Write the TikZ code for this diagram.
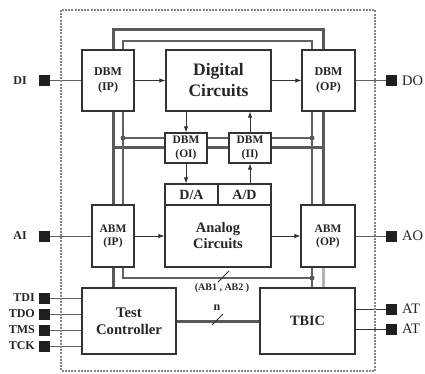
\documentclass[tikz,border=0pt]{standalone}
\usepackage{fontspec}
\setmainfont{Liberation Serif}
\usetikzlibrary{arrows.meta}
\newcommand{\boxfont}[2]{\fontsize{#1}{#2}\selectfont\bfseries}

\begin{document}
\begin{tikzpicture}[x=1pt,y=-1pt,>={Latex[length=6pt,width=4.5pt]},
  blk/.style={draw=black!80,line width=1.1pt,fill=white,inner sep=0pt,align=center,text=black!85},
  bus/.style={draw=black!65,line width=3pt},
  wire/.style={draw=black!62,line width=1.1pt},
  sig/.style={draw=black!80,line width=0.9pt},
  pin/.style={fill=black!88,inner sep=0pt,minimum size=11pt},
  plbl/.style={font=\boxfont{12}{14},text=black!85,inner sep=0pt},
  rlbl/.style={font=\fontsize{14.5}{16}\selectfont,text=black!85,inner sep=0pt},
  jdot/.style={circle,fill=black!65,inner sep=0pt,minimum size=5pt},
  border/.style={draw=black!48,line width=2pt,dash pattern=on 2pt off 1.2pt}]
  \useasboundingbox (0,0) rectangle (425,374);

  \node[blk,minimum width=52pt,minimum height=61pt,font=\boxfont{12}{15}] (dbmip) at (108,80.5) {DBM\\(IP)};
  \node[blk,minimum width=105pt,minimum height=61pt,font=\boxfont{17.5}{21}] (dig) at (218.5,80.5) {Digital\\Circuits};
  \node[blk,minimum width=53pt,minimum height=61pt,font=\boxfont{12}{15}] (dbmop) at (328.5,80.5) {DBM\\(OP)};
  \node[blk,minimum width=42pt,minimum height=30pt,font=\boxfont{11.5}{13.5}] (dbmoi) at (186,148) {DBM\\(OI)};
  \node[blk,minimum width=42pt,minimum height=30pt,font=\boxfont{11.5}{13.5}] (dbmii) at (250,148) {DBM\\(II)};
  \node[blk,minimum width=106pt,minimum height=62pt,font=\boxfont{14.5}{16}] (ana) at (218,236) {Analog\\Circuits};
  \node[blk,minimum width=53pt,minimum height=21pt,font=\boxfont{14}{16}] (da) at (191.5,194.5) {D/A};
  \node[blk,minimum width=53pt,minimum height=21pt,font=\boxfont{14}{16}] (ad) at (244.5,194.5) {A/D};
  \node[blk,minimum width=42pt,minimum height=62pt,font=\boxfont{11.5}{13}] (abmip) at (113,236) {ABM\\(IP)};
  \node[blk,minimum width=54pt,minimum height=62pt,font=\boxfont{11.5}{13}] (abmop) at (328,236) {ABM\\(OP)};
  \node[blk,minimum width=94pt,minimum height=66pt,font=\boxfont{14.7}{17}] (tc) at (129,321) {Test\\Controller};
  \node[blk,minimum width=95pt,minimum height=66pt,font=\boxfont{14.3}{17}] (tbic) at (307.5,321) {TBIC};

  \coordinate (tl) at (113,30);
  \coordinate (tr) at (323,30);
  \coordinate (itl) at (123,41);
  \coordinate (itr) at (312,41);
  \coordinate (ml) at (123,138);
  \coordinate (mr) at (312,138);
  \coordinate (br) at (312,278);

  \draw[bus] (dbmip.north -| tl) |- (tr) -- (tr |- dbmop.north);
  \draw[bus] (tl |- dbmip.south) -- (tl |- abmip.north);
  \draw[bus] (abmip.south) -- (abmip.south |- tc.north);
  \draw[bus] (tr |- dbmop.south) -- (tr |- abmop.north);
  \draw[bus,draw=black!30] (tr |- abmop.south) -- (tr |- tbic.north);
  \draw[bus] (tl |- dbmoi.west) -- (dbmoi.west);
  \draw[bus] (dbmoi.east) -- (dbmii.west);
  \draw[bus] (dbmii.east) -- (tr |- dbmii.east);
  \draw[bus] (tc.east) -- (tbic.west);

  \draw[wire] (dbmip.north -| itl) |- (itr) -- (itr |- dbmop.north);
  \draw[wire] (itl |- dbmip.south) -- (itl |- abmip.north);
  \draw[wire] (itr |- dbmop.south) -- (itr |- abmop.north);
  \draw[wire] (ml) -- (ml -| dbmoi.west);
  \draw[wire] (dbmoi.east |- ml) -- (dbmii.west |- ml);
  \draw[wire] (dbmii.east |- ml) -- (mr);
  \draw[wire] (itl |- abmip.south) |- (br);
  \draw[wire] (itr |- abmop.south) -- (itr |- tbic.north);
  \node[jdot] (j1) at (ml) {};
  \node[jdot] (j2) at (mr) {};
  \node[jdot] (j3) at (br) {};

  \draw[sig] (218,282) -- (229,271);
  \node[font=\boxfont{10}{12},text=black!85] (abl) at (222,288) {(AB1 , AB2 )};
  \draw[sig] (212,325) -- (223,314);
  \node[font=\boxfont{12}{14},text=black!85] (nl) at (217,308) {n};

  \draw[sig,->] (dbmip.east) -- (dig.west);
  \draw[sig,->] (dig.east) -- (dbmop.west);
  \draw[sig,->] (dbmoi.north |- dig.south) -- (dbmoi.north);
  \draw[sig,->] (dbmoi.south) -- (dbmoi.south |- da.north);
  \draw[sig,->] (dbmii.south |- ad.north) -- (dbmii.south);
  \draw[sig,->] (dbmii.north) -- (dbmii.north |- dig.south);
  \draw[sig,->] (abmip.east) -- (ana.west);
  \draw[sig,->] (ana.east) -- (abmop.west);

  \node[pin] (di) at (44.5,80.5) {};
  \node[pin] (ai) at (44.5,236) {};
  \node[pin] (tdi) at (44.5,298) {};
  \node[pin] (tdo) at (44.5,314) {};
  \node[pin] (tms) at (44.5,330) {};
  \node[pin] (tck) at (44.5,346) {};
  \node[pin] (do) at (391.5,80.5) {};
  \node[pin] (ao) at (391.5,236) {};
  \node[pin] (at1) at (391.5,309) {};
  \node[pin] (at2) at (391.5,329) {};

  \node[plbl,anchor=east] at (27,80.5) {DI};
  \node[plbl,anchor=east] at (27,236) {AI};
  \node[plbl,anchor=east] at (35,298) {TDI};
  \node[plbl,anchor=east] at (35,314) {TDO};
  \node[plbl,anchor=east] at (35,330) {TMS};
  \node[plbl,anchor=east] at (35,346) {TCK};
  \node[rlbl,anchor=west] at (402,80.5) {DO};
  \node[rlbl,anchor=west] at (402,236) {AO};
  \node[rlbl,anchor=west] at (402,309) {AT};
  \node[rlbl,anchor=west] at (402,329) {AT};

  \draw[wire,line width=0.9pt] (di) -- (dbmip.west);
  \draw[wire,line width=0.9pt] (ai) -- (abmip.west);
  \foreach \p in {tdi,tdo,tms,tck}
    \draw[wire,line width=0.9pt] (\p) -- (\p -| tc.west);
  \draw[wire,line width=0.9pt] (dbmop.east) -- (do);
  \draw[wire,line width=0.9pt] (abmop.east) -- (ao);
  \draw[sig] (at1 -| tbic.east) -- (at1);
  \draw[sig] (at2 -| tbic.east) -- (at2);

  \draw[border] (61,10) rectangle (375,371);
\end{tikzpicture}
\end{document}
